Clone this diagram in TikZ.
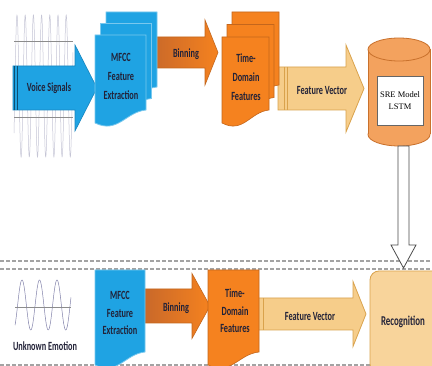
\documentclass[tikz,border=0pt]{standalone}
\usepackage{fontspec}
\newfontfamily\lblfont[FakeStretch=0.66]{Carlito}
\newfontfamily\modelfont{Liberation Serif}
\usetikzlibrary{calc}

\definecolor{sigblue}{HTML}{1FA3E3}
\definecolor{sigblueline}{HTML}{1786C0}
\definecolor{binorange}{HTML}{F5821F}
\definecolor{binbrown}{HTML}{C8682A}
\definecolor{binline}{HTML}{C4661C}
\definecolor{vectan}{HTML}{F6CD8A}
\definecolor{vecline}{HTML}{D9A24C}
\definecolor{modelorange}{HTML}{F3A25E}
\definecolor{modelline}{HTML}{C9712C}
\definecolor{recogtan}{HTML}{F8D49B}
\definecolor{txtdark}{HTML}{222238}
\definecolor{dashgray}{HTML}{A3A3A3}
\definecolor{wavegray}{HTML}{C6C6D6}
\definecolor{wavepurple}{HTML}{8282AA}

% page with wavy bottom: x, top, width, height, style
\newcommand{\docpage}[5]{%
  \draw[#5] (#1,#2) -- ++(#3,0) -- ++(0,#4-13)
    .. controls +(-0.4*#3,2) and +(0.45*#3,11) .. (#1,#2+#4) -- cycle;}
% block arrow: tail x, head start x, tip x, centre y, body half, head half, style
\newcommand{\fatarrow}[7]{%
  \draw[#7] (#1,#4-#5) -- (#2,#4-#5) -- (#2,#4-#6) -- (#3,#4)
    -- (#2,#4+#6) -- (#2,#4+#5) -- (#1,#4+#5) -- cycle;}

\begin{document}
\begin{tikzpicture}[x=1pt,y=-1pt,inner sep=0pt,outer sep=0pt,
lbl/.style={font=\lblfont\bfseries\fontsize{12.5}{19}\selectfont,text=txtdark,align=center},
lblb/.style={lbl,font=\lblfont\bfseries\fontsize{12.5}{17.5}\selectfont},
bluedoc/.style={fill=sigblue,draw=sigblue!60!white,line width=0.8pt},
orangedoc/.style={fill=binorange,draw=binline,line width=0.6pt},
bluearrow/.style={fill=sigblue,draw=sigblueline,line width=0.6pt},
binarrow/.style={left color=binbrown,right color=binorange,draw=binline,line width=0.6pt},
vecarrow/.style={fill=vectan,draw=vecline,line width=0.8pt},
wave/.style={wavegray,line width=0.5pt},
axisline/.style={black!45,line width=0.8pt},
sepline/.style={dashgray,line width=2pt,dash pattern=on 4pt off 2pt},
drum/.style={fill=modelorange,draw=modelline,line width=0.8pt},
hollow/.style={fill=white,draw=black!70,line width=0.8pt}]
\clip (0,0) rectangle (432,366);
\fill[white] (0,0) rectangle (432,366);

% training row
\draw[wave] plot[domain=14:73,samples=400] (\x,{86-71*cos(43.9*(\x-17))});
\draw[axisline] (14,41) -- (73,41);
\draw[axisline] (14,117) -- (73,117);
\fatarrow{13}{75}{97}{88}{22}{43}{bluearrow}
\draw[sigblueline!60!black,line width=0.8pt] (14.5,66) -- (14.5,110) (17,66) -- (17,110);
\node[lbl] (voicelbl) at (49,88) {Voice Signals};

\fatarrow{150}{205}{218}{52.5}{15.5}{32.5}{binarrow}
\node[lbl] (binlbl) at (186,54) {Binning};
\foreach \px/\py in {106/12,100.5/23.5,95/35}
  \docpage{\px}{\py}{51}{88}{bluedoc}
\node[lbl] (mfcc) at (121,76) {MFCC\\Feature\\Extraction};

\fatarrow{278}{346}{364}{88.5}{21.5}{43.5}{vecarrow}
\draw[vecline,line width=0.6pt] (284,67) -- (284,110) (287,67) -- (287,110);
\node[lbl] (featlbl) at (322,90) {Feature Vector};
\foreach \px/\py in {232/12,227/24.5,222/37}
  \docpage{\px}{\py}{47}{86}{orangedoc}
\node[lbl] (timedom) at (246,77) {Time-\\Domain\\Features};

% model drum
\node[minimum width=62pt,minimum height=108pt] (model) at (399,92) {};
\draw[drum] ($(model.south)+(0,-11.5)$) ellipse [x radius=31pt,y radius=11.5pt];
\fill[modelorange] ($(model.north west)+(0,11.5)$) rectangle ($(model.south east)+(0,-11.5)$);
\draw[drum] ($(model.north west)+(0,11.5)$) -- ($(model.south west)+(0,-11.5)$)
  ($(model.north east)+(0,11.5)$) -- ($(model.south east)+(0,-11.5)$);
\draw[drum] ($(model.north)+(0,11.5)$) ellipse [x radius=31pt,y radius=11.5pt];
\node[draw=black!60,fill=white,line width=0.6pt,minimum width=46pt,minimum height=49pt,
  font=\modelfont\fontsize{8.5}{12}\selectfont,align=center] (sre) at (400,100.5) {SRE Model\\LSTM};

% recognition row
\draw[sepline] (0,261) -- (432,261);
\draw[sepline] (0,269) -- (432,269);
\draw[sepline] (0,365) -- (432,365);

\draw[wave,wavepurple] plot[domain=15:71,samples=300] (\x,{305-25*cos(20.57*(\x-22))});
\draw[axisline] (15,307) -- (71,307);
\node[lblb] (unknown) at (45,346) {Unknown Emotion};

\fatarrow{143}{192}{210}{306}{17}{32.5}{binarrow}
\node[lblb] (bin2) at (176,308) {Binning};
\docpage{95}{270}{50}{95}{bluedoc}
\node[lblb] (mfcc2) at (120,313) {MFCC\\Feature\\Extraction};

\fatarrow{257}{353}{366}{314}{16}{32.5}{vecarrow}
\draw[vecline,line width=0.6pt] (263,298) -- (263,330);
\node[lblb] (feat2) at (310,316) {Feature Vector};
\docpage{208}{270}{51}{95}{orangedoc}
\node[lblb] (timedom2) at (235,311) {Time-\\Domain\\Features};

\node[fill=recogtan,draw=vecline,line width=0.8pt,rounded corners=9pt,
  minimum width=80pt,minimum height=102pt,lbl,font=\lblfont\bfseries\fontsize{13.5}{15}\selectfont]
  (recog) at (410,322) {Recognition\hspace*{14pt}};

\draw[hollow] let \p1=(model.south), \p2=(recog.north) in
  (\x1-1pt,\y1) -- (\x1-1pt,\y2+26pt) -- (\x1-8pt,\y2+26pt) -- (\x1+4.5pt,\y2+3pt)
  -- (\x1+17pt,\y2+26pt) -- (\x1+10pt,\y2+26pt) -- (\x1+10pt,\y1) -- cycle;
\end{tikzpicture}
\end{document}
